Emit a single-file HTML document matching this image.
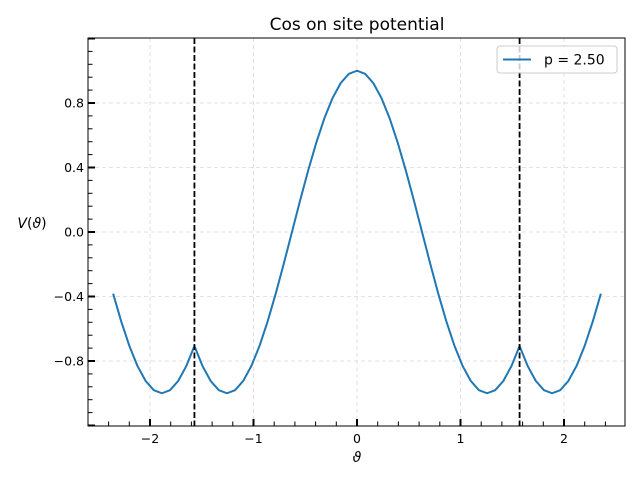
<!DOCTYPE html>
<html><head><meta charset="utf-8"><style>
html,body{margin:0;padding:0;background:#fff;}
svg{display:block;font-family:"DejaVu Sans","Liberation Sans",sans-serif;}
</style></head><body>
<svg id="c" width="640" height="480" viewBox="0 0 640 480"></svg>
<script>
const xs=[-2.3562,-2.2777,-2.1991,-2.1206,-2.0420,-1.9635,-1.8850,-1.8064,-1.7279,-1.6493,-1.5708,-1.4923,-1.4137,-1.3352,-1.2566,-1.1781,-1.0996,-1.0210,-0.9425,-0.8639,-0.7854,-0.7069,-0.6283,-0.5498,-0.4712,-0.3927,-0.3142,-0.2356,-0.1571,-0.0785,0,0.0785,0.1571,0.2356,0.3142,0.3927,0.4712,0.5498,0.6283,0.7069,0.7854,0.8639,0.9425,1.0210,1.0996,1.1781,1.2566,1.3352,1.4137,1.4923,1.5708,1.6493,1.7279,1.8064,1.8850,1.9635,2.0420,2.1206,2.1991,2.2777,2.3562];
const ys=[-0.3827,-0.5556,-0.7071,-0.8315,-0.9239,-0.9808,-1,-0.9808,-0.9239,-0.8315,-0.7071,-0.8315,-0.9239,-0.9808,-1,-0.9808,-0.9239,-0.8315,-0.7071,-0.5556,-0.3827,-0.1951,0,0.1951,0.3827,0.5556,0.7071,0.8315,0.9239,0.9808,1,0.9808,0.9239,0.8315,0.7071,0.5556,0.3827,0.1951,0,-0.1951,-0.3827,-0.5556,-0.7071,-0.8315,-0.9239,-0.9808,-1,-0.9808,-0.9239,-0.8315,-0.7071,-0.8315,-0.9239,-0.9808,-1,-0.9808,-0.9239,-0.8315,-0.7071,-0.5556,-0.3827];
const xTicks=[-2,-1,0,1,2];
const xTickLabels=["\u22122","\u22121","0","1","2"];
const yTicks=[-0.8,-0.4,0,0.4,0.8];
const yTickLabels=["\u22120.8","\u22120.4","0.0","0.4","0.8"];
const vLines=[-1.5708,1.5708];
const L=88,R=625,T=38,B=426;
const X=v=>357+v*103.5;
const Y=v=>232-v*161.25;
const svg=document.getElementById('c');
const NS='http://www.w3.org/2000/svg';
function mk(t,a,p){const e=document.createElementNS(NS,t);for(const k in a)e.setAttribute(k,a[k]);(p||svg).appendChild(e);return e;}
xTicks.forEach(v=>{const e=mk('line',{x1:X(v),x2:X(v),y1:T,y2:B,stroke:'#d9d9d9','stroke-dasharray':'4,3','stroke-width':0.8});

});
yTicks.forEach(v=>{const e=mk('line',{x1:L,x2:R,y1:Y(v),y2:Y(v),stroke:'#d9d9d9','stroke-dasharray':'4,3','stroke-width':0.8});

});
const pl=mk('polyline',{points:xs.map((x,i)=>X(x)+','+Y(ys[i])).join(' '),fill:'none',stroke:'#1f77b4','stroke-width':2,'stroke-linejoin':'round'});


vLines.forEach(v=>{const e=mk('line',{x1:X(v),x2:X(v),y1:T,y2:B,stroke:'#000','stroke-dasharray':'6,2.5','stroke-width':1.8});

});
const fr=mk('rect',{x:L,y:T,width:R-L,height:B-T,fill:'none',stroke:'#000','stroke-width':1});


for(let k=-13;k<=12;k++){const v=k*0.2;const x=X(v);if(x<L||x>R)continue;const maj=Math.abs(v-Math.round(v))<1e-6;
const e=mk('line',{x1:x,x2:x,y1:B,y2:B-(maj?7:4.5),stroke:'#000','stroke-width':maj?2:1});

}
for(let k=-15;k<=15;k++){const v=k*0.08;const y=Y(v);if(y<T||y>B)continue;const maj=Math.abs(v/0.4-Math.round(v/0.4))<1e-6;
const e=mk('line',{x1:L,x2:L+(maj?7:4.5),y1:y,y2:y,stroke:'#000','stroke-width':maj?2:1});

}
xTicks.forEach((v,i)=>{const t=mk('text',{x:X(v),y:443,'text-anchor':'middle','font-size':12.5});t.textContent=xTickLabels[i];

});
yTicks.forEach((v,i)=>{const t=mk('text',{x:84,y:Y(v)+4.5,'text-anchor':'end','font-size':12.5});t.textContent=yTickLabels[i];

});
</script>
<svg style="position:absolute;left:0;top:0" width="640" height="480">
<text x="357" y="30" text-anchor="middle" font-size="17" font-family="DejaVu Sans,sans-serif">Cos on site potential</text>
<text x="357" y="462" text-anchor="middle" font-size="14" font-style="italic" font-family="DejaVu Sans,sans-serif">ϑ</text>
<text x="32" y="228" text-anchor="middle" font-size="14" font-family="DejaVu Sans,sans-serif"><tspan font-style="italic">V</tspan>(<tspan font-style="italic">ϑ</tspan>)</text>
<g>
<rect x="497" y="46" width="120" height="27" rx="3" fill="#fff" fill-opacity="0.8" stroke="#ccc" stroke-width="1"/>
<line x1="503" x2="531" y1="59.5" y2="59.5" stroke="#1f77b4" stroke-width="2"/>
<text x="544" y="64.5" font-size="14" font-family="DejaVu Sans,sans-serif">p = 2.50</text>
</g>
</svg>
</body></html>
